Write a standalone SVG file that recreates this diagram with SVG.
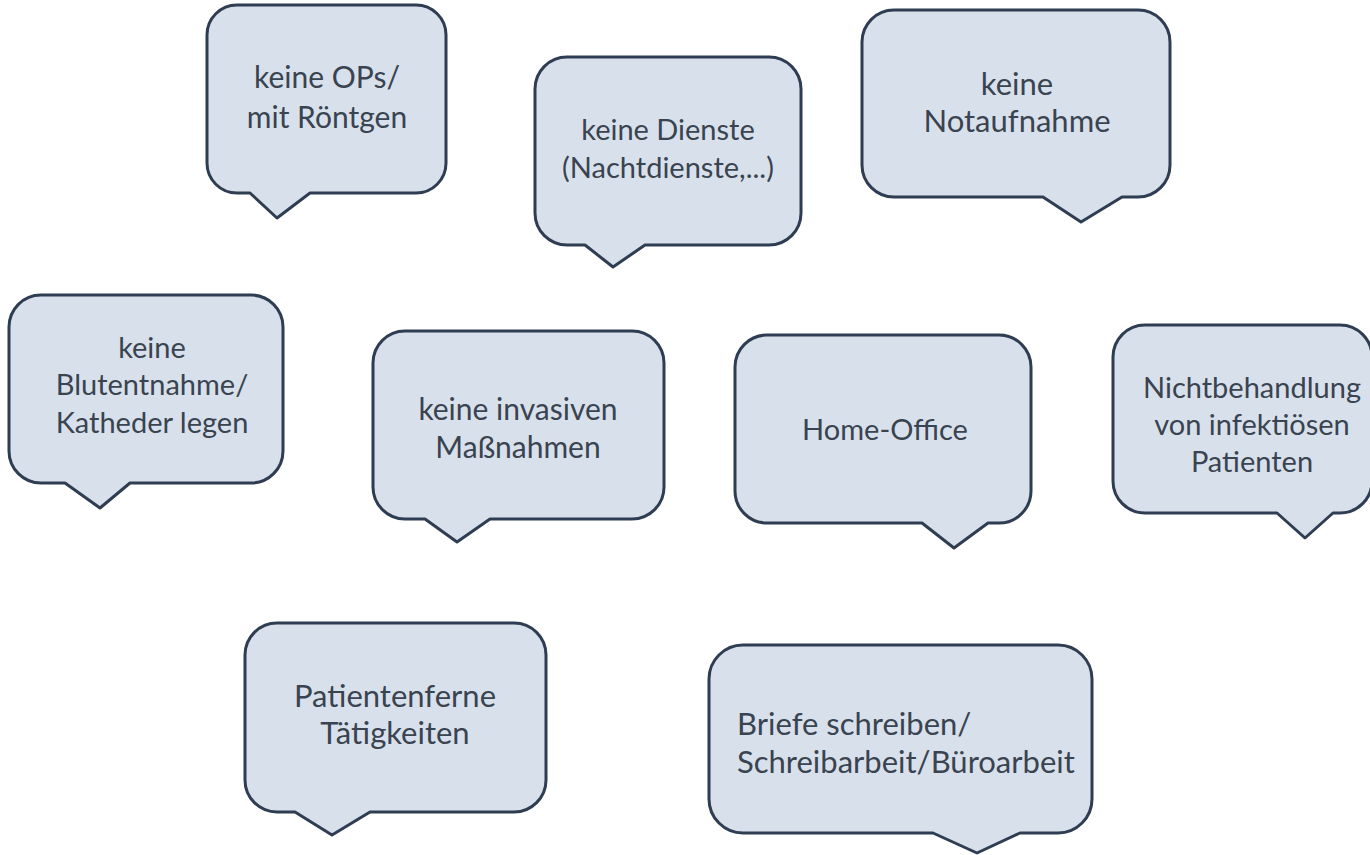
<svg xmlns="http://www.w3.org/2000/svg" width="1370" height="855" viewBox="0 0 1370 855">
<style>
.b{fill:#d8e1eb;stroke:#2f3d52;stroke-width:3;stroke-linejoin:round}
.t{font-family:Lato,"Open Sans","Liberation Sans",sans-serif;font-size:30px;fill:#3a4350;text-anchor:middle}
.l{text-anchor:start}
</style>
<rect width="1370" height="855" fill="#ffffff"/>
<g id="connectors"></g>
<g id="n1">
<path class="b" d="M237,5 H416 A30,30 0 0 1 446,35 V163 A30,30 0 0 1 416,193 H310 L277,218 L250,193 H237 A30,30 0 0 1 207,163 V35 A30,30 0 0 1 237,5 Z"/>
<text class="t" x="327" y="88">keine OPs/</text>
<text class="t" x="327" y="128">mit Röntgen</text>
</g>
<g id="n2">
<path class="b" d="M567,57 H769 A32,32 0 0 1 801,89 V213 A32,32 0 0 1 769,245 H645 L613,267 L585,245 H567 A32,32 0 0 1 535,213 V89 A32,32 0 0 1 567,57 Z"/>
<text class="t" x="668" y="140" style="font-size:29px">keine Dienste</text>
<text class="t" x="668" y="178" style="font-size:29px">(Nachtdienste,...)</text>
</g>
<g id="n3">
<path class="b" d="M894,10 H1138 A32,32 0 0 1 1170,42 V165 A32,32 0 0 1 1138,197 H1122 L1081,222 L1043,197 H894 A32,32 0 0 1 862,165 V42 A32,32 0 0 1 894,10 Z"/>
<text class="t" x="1017" y="95" style="font-size:31px">keine</text>
<text class="t" x="1017" y="132" style="font-size:31px">Notaufnahme</text>
</g>
<g id="n4">
<path class="b" d="M41,295 H251 A32,32 0 0 1 283,327 V451 A32,32 0 0 1 251,483 H130 L100,508 L65,483 H41 A32,32 0 0 1 9,451 V327 A32,32 0 0 1 41,295 Z"/>
<text class="t" x="152" y="358" style="font-size:29px">keine</text>
<text class="t" x="152" y="395" style="font-size:29px">Blutentnahme/</text>
<text class="t" x="152" y="433" style="font-size:29px">Katheder legen</text>
</g>
<g id="n5">
<path class="b" d="M405,331 H632 A32,32 0 0 1 664,363 V487 A32,32 0 0 1 632,519 H490 L457,542 L425,519 H405 A32,32 0 0 1 373,487 V363 A32,32 0 0 1 405,331 Z"/>
<text class="t" x="518" y="420">keine invasiven</text>
<text class="t" x="518" y="458">Maßnahmen</text>
</g>
<g id="n6">
<path class="b" d="M767,335 H999 A32,32 0 0 1 1031,367 V491 A32,32 0 0 1 999,523 H988 L954,548 L922,523 H767 A32,32 0 0 1 735,491 V367 A32,32 0 0 1 767,335 Z"/>
<text class="t" x="885" y="440" style="font-size:29px">Home-Office</text>
</g>
<g id="n7">
<path class="b" d="M1145,325 H1340 A32,32 0 0 1 1372,357 V481 A32,32 0 0 1 1340,513 H1333 L1305,538 L1277,513 H1145 A32,32 0 0 1 1113,481 V357 A32,32 0 0 1 1145,325 Z"/>
<text class="t" x="1252" y="398" style="font-size:29px">Nichtbehandlung</text>
<text class="t" x="1252" y="435" style="font-size:29px">von infektiösen</text>
<text class="t" x="1252" y="472" style="font-size:29px">Patienten</text>
</g>
<g id="n8">
<path class="b" d="M277,623 H514 A32,32 0 0 1 546,655 V780 A32,32 0 0 1 514,812 H370 L332,835 L295,812 H277 A32,32 0 0 1 245,780 V655 A32,32 0 0 1 277,623 Z"/>
<text class="t" x="395" y="707" style="font-size:31px">Patientenferne</text>
<text class="t" x="395" y="744" style="font-size:31px">Tätigkeiten</text>
</g>
<g id="n9">
<path class="b" d="M743,645 H1058 A34,34 0 0 1 1092,679 V799 A34,34 0 0 1 1058,833 H1020 L977,853 L933,833 H743 A34,34 0 0 1 709,799 V679 A34,34 0 0 1 743,645 Z"/>
<text class="t l" x="737" y="735" style="font-size:31px">Briefe schreiben/</text>
<text class="t l" x="737" y="773" style="font-size:31px">Schreibarbeit/Büroarbeit</text>
</g>
</svg>
